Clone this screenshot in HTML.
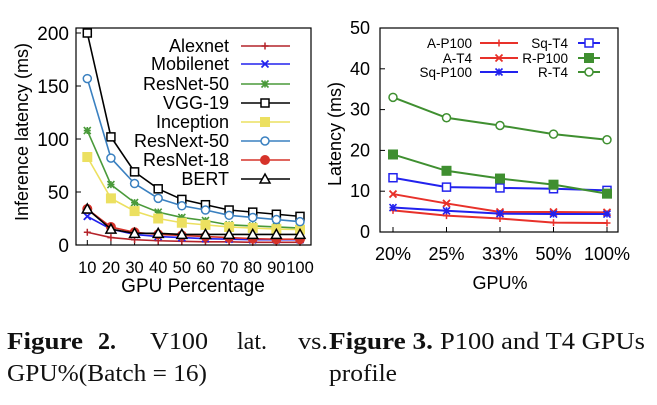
<!DOCTYPE html>
<html><head><meta charset="utf-8"><style>
body{margin:0;background:#fff;width:657px;height:400px;overflow:hidden}
svg text{font-family:"Liberation Sans",sans-serif}
.cap{font-family:"Liberation Serif",serif;font-size:24px;fill:#111}
</style></head><body>
<svg id="s" width="657" height="400">
<g id="L"></g>
<g id="R"></g>
<g>
<text class="cap" x="7" y="349" font-weight="bold" textLength="76" lengthAdjust="spacingAndGlyphs">Figure</text>
<text class="cap" x="98" y="349" font-weight="bold">2.</text>
<text class="cap" x="150" y="349" textLength="58" lengthAdjust="spacingAndGlyphs">V100</text>
<text class="cap" x="237" y="349">lat.</text>
<text class="cap" x="298" y="349" textLength="30" lengthAdjust="spacingAndGlyphs">vs.</text>
<text class="cap" x="7" y="381" textLength="200" lengthAdjust="spacingAndGlyphs">GPU%(Batch = 16)</text>
<text class="cap" x="329" y="349" font-weight="bold" textLength="104" lengthAdjust="spacingAndGlyphs">Figure 3.</text>
<text class="cap" x="440" y="349" textLength="205" lengthAdjust="spacingAndGlyphs">P100 and T4 GPUs</text>
<text class="cap" x="329" y="381" textLength="68" lengthAdjust="spacingAndGlyphs">profile</text>
</g>
</svg>
<script>
const NS="http://www.w3.org/2000/svg";
function mk(p,t,a){const e=document.createElementNS(NS,t);for(const k in a)e.setAttribute(k,a[k]);p.appendChild(e);return e;}
// ---- left chart data ----
const leftCategories=[10,20,30,40,50,60,70,80,90,100];
const leftYTicks=[0,50,100,150,200];
const alexnet=[12,7,5,4,3.5,3,3,2.5,2.5,2.5];
const mobilenet=[27,15,10,8,7,6,5.5,5,5,5];
const resnet50=[108,57,40,31,26,23,19,18,17,16];
const vgg19=[200,102,69,53,43,38,33,31,29,27];
const inception=[83,44,32,25,21,19,17,16,15,14.5];
const resnext50=[157,82,58,44,37,33,28,26,24,22];
const resnet18=[34,17,12,10,9,8,7,6,5.5,5.5];
const bert=[34,15,11,11,10,10,10,10,10,10];
const leftNames=["Alexnet","Mobilenet","ResNet-50","VGG-19","Inception","ResNext-50","ResNet-18","BERT"];
// ---- right chart data ----
const rightCategories=["20%","25%","33%","50%","100%"];
const rightYTicks=[0,10,20,30,40,50];
const aP100=[5.3,4,3.3,2.3,2.2];
const aT4=[9.3,7,4.9,4.9,4.8];
const sqP100=[6,5.2,4.5,4.4,4.4];
const sqT4=[13.3,11,10.8,10.6,10.2];
const rP100=[19,15,13.1,11.6,9.4];
const rT4=[33,28,26.1,24,22.6];
const rightNames=["A-P100","A-T4","Sq-P100","Sq-T4","R-P100","R-T4"];

function marker(g,type,x,y,c){
  const s=3.5;
  if(type==="plus"){mk(g,"path",{d:`M${x-s} ${y}H${x+s}M${x} ${y-s}V${y+s}`,stroke:c,"stroke-width":1.5});}
  else if(type==="x"){mk(g,"path",{d:`M${x-s} ${y-s}L${x+s} ${y+s}M${x-s} ${y+s}L${x+s} ${y-s}`,stroke:c,"stroke-width":1.8});}
  else if(type==="star"){mk(g,"path",{d:`M${x-s} ${y}H${x+s}M${x} ${y-s}V${y+s}M${x-s} ${y-s}L${x+s} ${y+s}M${x-s} ${y+s}L${x+s} ${y-s}`,stroke:c,"stroke-width":1.6});}
  else if(type==="osq"){mk(g,"rect",{x:x-4,y:y-4,width:8,height:8,fill:"#fff",stroke:c,"stroke-width":1.5});}
  else if(type==="fsq"){mk(g,"rect",{x:x-5,y:y-5,width:10,height:10,fill:c});}
  else if(type==="ocirc"){mk(g,"circle",{cx:x,cy:y,r:4,fill:"#fff",stroke:c,"stroke-width":1.5});}
  else if(type==="fcirc"){mk(g,"circle",{cx:x,cy:y,r:5,fill:c});}
  else if(type==="otri"){mk(g,"path",{d:`M${x} ${y-5}L${x+5} ${y+4}L${x-5} ${y+4}Z`,fill:"#fff",stroke:c,"stroke-width":1.5});}
}
// ---- left chart ----
(function(){
  const g=document.getElementById("L");
  const x0=76,x1=311,yT=28,yB=245;
  const xs=i=>87.3+i*(300-87.3)/9, ys=v=>245-v*(245-33)/200;
  leftYTicks.forEach(t=>{const y=ys(t);
    mk(g,"line",{x1:x0,x2:x0+5,y1:y,y2:y,stroke:"#000"});
    const tx=mk(g,"text",{x:x0-7,y:y+7,"text-anchor":"end","font-size":19});tx.textContent=t;
    
    });
  leftCategories.forEach((c,i)=>{const x=xs(i);
    mk(g,"line",{x1:x,x2:x,y1:yB,y2:yB-5,stroke:"#000"});
    const tx=mk(g,"text",{x:x,y:273,"text-anchor":"middle","font-size":16.5});tx.textContent=c;
    
    });
  const yt=mk(g,"text",{transform:"translate(28,132) rotate(-90)","text-anchor":"middle","font-size":18});yt.textContent="Inference latency (ms)";
  
  
  const xt=mk(g,"text",{x:193,y:292,"text-anchor":"middle","font-size":19});xt.textContent="GPU Percentage";
  
  
  const series=[[alexnet,"#b4232a","plus"],[mobilenet,"#2222ee","x"],[resnet50,"#4a9a3a","star"],[vgg19,"#000","osq"],[inception,"#ece060","fsq"],[resnext50,"#3a80c0","ocirc"],[resnet18,"#d6332a","fcirc"],[bert,"#000","otri"]];
  const ly=[46,64,84,103,122,141,160,179];
  series.forEach((s,k)=>{
    const sg=mk(g,"g",{});
    
    
    mk(sg,"polyline",{points:s[0].map((v,i)=>xs(i)+","+ys(v)).join(" "),fill:"none",stroke:s[1],"stroke-width":1.6});
    s[0].forEach((v,i)=>marker(sg,s[2],xs(i),ys(v),s[1]));
    const lg=mk(g,"g",{});
    
    
    const t=mk(lg,"text",{x:229,y:ly[k]+6,"text-anchor":"end","font-size":18});t.textContent=leftNames[k];
    mk(lg,"line",{x1:241,x2:290,y1:ly[k],y2:ly[k],stroke:s[1],"stroke-width":1.6});
    marker(lg,s[2],265,ly[k],s[1]);
  });
  mk(g,"rect",{x:x0,y:yT,width:x1-x0,height:yB-yT,fill:"none",stroke:"#000","stroke-width":1.2});
})();
// ---- right chart ----
(function(){
  const g=document.getElementById("R");
  const x0=380,x1=618,yT=28,yB=232;
  const xs=i=>393+i*(607-393)/4, ys=v=>232-v*(232-28)/50;
  rightYTicks.forEach(t=>{const y=ys(t);
    mk(g,"line",{x1:x0,x2:x0+5,y1:y,y2:y,stroke:"#000"});
    const tx=mk(g,"text",{x:x0-10,y:y+6,"text-anchor":"end","font-size":18});tx.textContent=t;
    
    });
  rightCategories.forEach((c,i)=>{const x=xs(i);
    mk(g,"line",{x1:x,x2:x,y1:yB,y2:yB-5,stroke:"#000"});
    const tx=mk(g,"text",{x:x,y:260,"text-anchor":"middle","font-size":18});tx.textContent=c;
    
    });
  const yt=mk(g,"text",{transform:"translate(341,134) rotate(-90)","text-anchor":"middle","font-size":18});yt.textContent="Latency (ms)";
  
  
  const xt=mk(g,"text",{x:500,y:289,"text-anchor":"middle","font-size":18});xt.textContent="GPU%";
  
  
  const series=[[aP100,"#e8312a","plus"],[aT4,"#e8312a","x"],[sqP100,"#2222ee","star"],[sqT4,"#2222ee","osq"],[rP100,"#3f8f30","fsq"],[rT4,"#3f8f30","ocirc"]];
  const lpos=[[472,480,518,43],[472,480,518,58],[472,480,518,72],[568,578,600,43],[568,578,600,58],[568,578,600,72]];
  series.forEach((s,k)=>{
    const sg=mk(g,"g",{});
    
    
    mk(sg,"polyline",{points:s[0].map((v,i)=>xs(i)+","+ys(v)).join(" "),fill:"none",stroke:s[1],"stroke-width":2});
    s[0].forEach((v,i)=>marker(sg,s[2],xs(i),ys(v),s[1]));
    const p=lpos[k];
    const lg=mk(g,"g",{});
    
    
    const t=mk(lg,"text",{x:p[0],y:p[3]+5,"text-anchor":"end","font-size":13.5});t.textContent=rightNames[k];
    mk(lg,"line",{x1:p[1],x2:p[2],y1:p[3],y2:p[3],stroke:s[1],"stroke-width":2});
    marker(lg,s[2],(p[1]+p[2])/2,p[3],s[1]);
  });
  mk(g,"rect",{x:x0,y:yT,width:x1-x0,height:yB-yT,fill:"none",stroke:"#000","stroke-width":1.2});
})();
</script>
</body></html>
